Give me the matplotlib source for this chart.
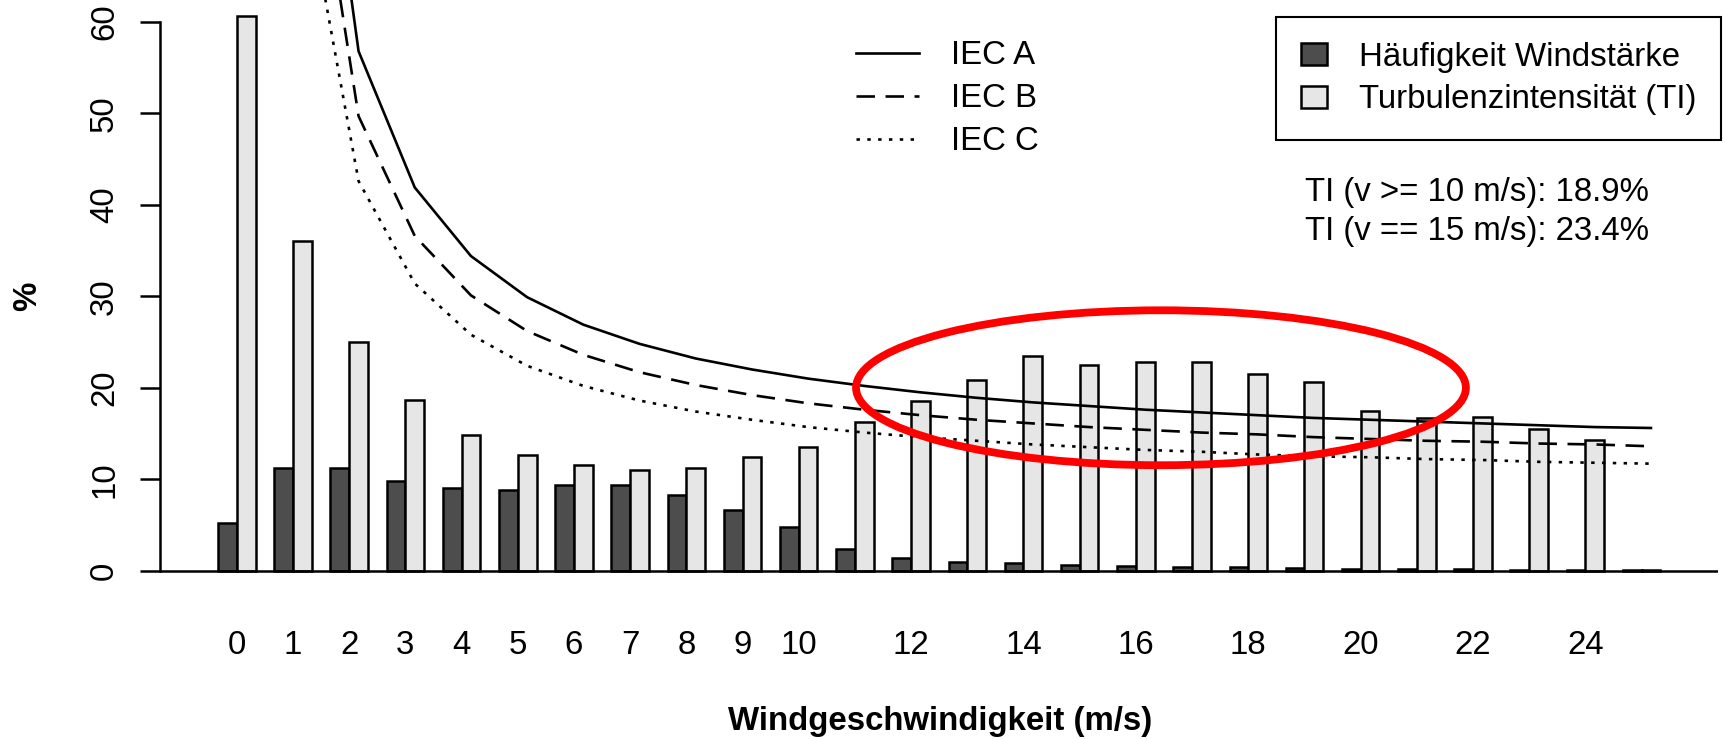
"""Windgeschwindigkeit: Häufigkeit vs. Turbulenzintensität mit IEC-Kurven."""
import matplotlib
matplotlib.use("Agg")
import matplotlib.pyplot as plt
import numpy as np
from matplotlib.patches import Ellipse

plt.rcParams["font.family"] = ["Liberation Sans", "DejaVu Sans"]

# --- data ---
speeds = list(range(26))
freq = [5.2, 11.25, 11.25, 9.75, 9.0, 8.85, 9.35, 9.35, 8.25, 6.65, 4.73, 2.35,
        1.34, 0.95, 0.8, 0.6, 0.52, 0.45, 0.35, 0.25, 0.2, 0.18, 0.15, 0.12, 0.12, 0.08]
ti = [60.6, 36.0, 24.95, 18.7, 14.85, 12.7, 11.6, 11.0, 11.2, 12.45, 13.5, 16.3,
      18.6, 20.8, 23.45, 22.5, 22.85, 22.8, 21.5, 20.6, 17.5, 16.65, 16.85, 15.5, 14.3, 0.1]
# IEC reference curves for v = 1..25 (v = 0 is off the chart)
iec_a = [101.6, 56.8, 41.9, 34.4, 29.9, 26.9, 24.8, 23.2, 22.0, 21.0, 20.2, 19.5, 18.9,
         18.4, 18.0, 17.6, 17.3, 17.0, 16.7, 16.5, 16.3, 16.1, 15.9, 15.7, 15.6]
iec_b = [88.9, 49.7, 36.6, 30.1, 26.2, 23.6, 21.7, 20.3, 19.2, 18.3, 17.6, 17.0, 16.5,
         16.1, 15.7, 15.4, 15.1, 14.9, 14.6, 14.4, 14.2, 14.1, 13.9, 13.8, 13.6]
iec_c = [76.2, 42.6, 31.4, 25.8, 22.4, 20.2, 18.6, 17.4, 16.5, 15.7, 15.1, 14.6, 14.2,
         13.8, 13.5, 13.2, 13.0, 12.7, 12.5, 12.4, 12.2, 12.1, 11.9, 11.8, 11.7]
tick_speeds = [0, 1, 2, 3, 4, 5, 6, 7, 8, 9, 10, 12, 14, 16, 18, 20, 22, 24]
stats = ["TI (v >= 10 m/s): 18.9%", "TI (v == 15 m/s): 23.4%"]

W, H = 1725, 739
FS = 23.8
LW = 1.8

# R barplot(beside=TRUE) geometry: each group = 1 space + 2 bars of width 1
g = np.arange(len(speeds))
x_dark = 3 * g + 1.5
x_light = 3 * g + 2.5

fig = plt.figure(figsize=(W / 100, H / 100), dpi=100)
ax = fig.add_axes([160.4 / W, 1 - 592.6 / H, (1718 - 160.4) / W, 592.6 / H])

b1 = ax.bar(x_dark, freq, width=1, color="#4d4d4d", edgecolor="black", lw=LW,
            label="Häufigkeit Windstärke", zorder=2)
b2 = ax.bar(x_light, ti, width=1, color="#e6e6e6", edgecolor="black", lw=LW,
            label="Turbulenzintensität (TI)", zorder=2)
ax.axhline(0, color="black", lw=LW, zorder=3)

la, = ax.plot(x_light[1:], iec_a, color="black", lw=1.9, label="IEC A", zorder=4)
lb, = ax.plot(x_light[1:], iec_b, color="black", lw=1.9, dashes=(7, 4),
              label="IEC B", zorder=4)
lc, = ax.plot(x_light[1:], iec_c, color="black", lw=1.9, dashes=(1.3, 2.8),
              label="IEC C", zorder=4)

ax.add_patch(Ellipse((51.34, 20.0), 32.56, 16.94, fill=False, edgecolor="#ff0000",
                     lw=5.6, zorder=6, clip_on=False))

ax.set_xlim(-2.08, 81.08)
ax.set_ylim(-2.4, 62.4)
for s in ("top", "right", "bottom"):
    ax.spines[s].set_visible(False)
ax.spines["left"].set_bounds(0, 60)
ax.spines["left"].set_linewidth(LW)

ax.set_yticks(range(0, 61, 10))
ax.set_yticklabels([str(v) for v in range(0, 61, 10)], rotation=90, va="center",
                   fontsize=FS)
ax.tick_params(axis="y", length=14.6, width=LW, pad=14.4)
ax.set_xticks(3 * np.array(tick_speeds) + 2)
ax.set_xticklabels([str(v) for v in tick_speeds], fontsize=FS)
ax.tick_params(axis="x", length=0, pad=27)

leg1 = ax.legend(handles=[la, lb, lc], loc="upper left",
                 bbox_to_anchor=(856 / W, 1 - 40.5 / H), bbox_transform=fig.transFigure,
                 frameon=False, fontsize=FS, handlelength=1.9, handletextpad=0.96,
                 labelspacing=0.36, borderpad=0, borderaxespad=0)
ax.add_artist(leg1)
leg2 = ax.legend(handles=[b1, b2], loc="upper left",
                 bbox_to_anchor=(1276 / W, 1 - 17.2 / H), bbox_transform=fig.transFigure,
                 fontsize=FS, handlelength=0.79, handleheight=0.64, handletextpad=0.96,
                 labelspacing=0.34, borderpad=0.75, borderaxespad=0, fancybox=False,
                 framealpha=1, edgecolor="black")
leg2.get_frame().set_linewidth(1.5)

for i, txt in enumerate(stats):
    fig.text(1304.7 / W, 1 - (192.5 + 39.5 * i) / H, txt, fontsize=FS,
             ha="left", va="center")

fig.text(27.5 / W, 1 - 296 / H, "%", rotation=90, fontsize=FS, fontweight="bold",
         ha="center", va="center")
fig.text(940 / W, 1 - 730 / H, "Windgeschwindigkeit (m/s)", fontsize=FS,
         fontweight="bold", ha="center", va="baseline")

fig.savefig("out.png", dpi=100)
